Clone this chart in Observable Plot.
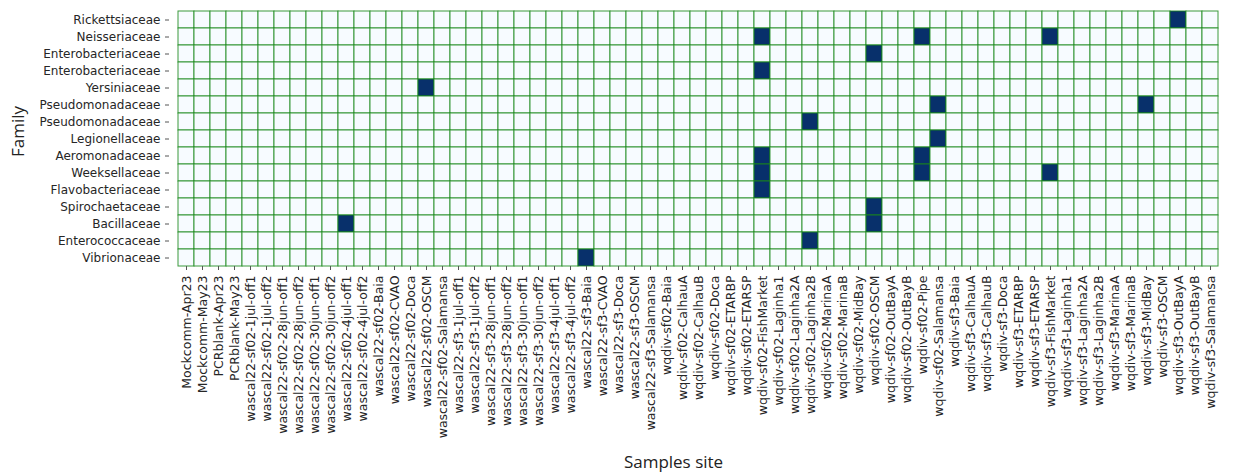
<!DOCTYPE html>
<html>
<head>
<meta charset="utf-8">
<script src="https://cdn.jsdelivr.net/npm/d3@7"></script>
<script src="https://cdn.jsdelivr.net/npm/@observablehq/plot@0.6"></script>
<style>
  body { margin: 0; background: #fff; }
</style>
</head>
<body>
<div id="chart"></div>
<script>
// Bacterial families (rows, top to bottom); some names occur twice
const families = [
  "Rickettsiaceae", "Neisseriaceae", "Enterobacteriaceae", "Enterobacteriaceae",
  "Yersiniaceae", "Pseudomonadaceae", "Pseudomonadaceae", "Legionellaceae",
  "Aeromonadaceae", "Weeksellaceae", "Flavobacteriaceae", "Spirochaetaceae",
  "Bacillaceae", "Enterococcaceae", "Vibrionaceae"
];

// Sample sites (columns, left to right)
const samples = [
  "Mockcomm-Apr23", "Mockcomm-May23", "PCRblank-Apr23", "PCRblank-May23",
  "wascal22-sf02-1jul-off1", "wascal22-sf02-1jul-off2", "wascal22-sf02-28jun-off1",
  "wascal22-sf02-28jun-off2", "wascal22-sf02-30jun-off1", "wascal22-sf02-30jun-off2",
  "wascal22-sf02-4jul-off1", "wascal22-sf02-4jul-off2", "wascal22-sf02-Baia",
  "wascal22-sf02-CVAO", "wascal22-sf02-Doca", "wascal22-sf02-OSCM",
  "wascal22-sf02-Salamansa", "wascal22-sf3-1jul-off1", "wascal22-sf3-1jul-off2",
  "wascal22-sf3-28jun-off1", "wascal22-sf3-28jun-off2", "wascal22-sf3-30jun-off1",
  "wascal22-sf3-30jun-off2", "wascal22-sf3-4jul-off1", "wascal22-sf3-4jul-off2",
  "wascal22-sf3-Baia", "wascal22-sf3-CVAO", "wascal22-sf3-Doca", "wascal22-sf3-OSCM",
  "wascal22-sf3-Salamansa", "wqdiv-sf02-Baia", "wqdiv-sf02-CalhauA", "wqdiv-sf02-CalhauB",
  "wqdiv-sf02-Doca", "wqdiv-sf02-ETARBP", "wqdiv-sf02-ETARSP", "wqdiv-sf02-FishMarket",
  "wqdiv-sf02-Laginha1", "wqdiv-sf02-Laginha2A", "wqdiv-sf02-Laginha2B",
  "wqdiv-sf02-MarinaA", "wqdiv-sf02-MarinaB", "wqdiv-sf02-MidBay", "wqdiv-sf02-OSCM",
  "wqdiv-sf02-OutBayA", "wqdiv-sf02-OutBayB", "wqdiv-sf02-Pipe", "wqdiv-sf02-Salamansa",
  "wqdiv-sf3-Baia", "wqdiv-sf3-CalhauA", "wqdiv-sf3-CalhauB", "wqdiv-sf3-Doca",
  "wqdiv-sf3-ETARBP", "wqdiv-sf3-ETARSP", "wqdiv-sf3-FishMarket", "wqdiv-sf3-Laginha1",
  "wqdiv-sf3-Laginha2A", "wqdiv-sf3-Laginha2B", "wqdiv-sf3-MarinaA", "wqdiv-sf3-MarinaB",
  "wqdiv-sf3-MidBay", "wqdiv-sf3-OSCM", "wqdiv-sf3-OutBayA", "wqdiv-sf3-OutBayB",
  "wqdiv-sf3-Salamansa"
];

// Sites where each family (same order as above) was detected
const detected = [
  ["wqdiv-sf3-OutBayA"],
  ["wqdiv-sf02-FishMarket", "wqdiv-sf02-Pipe", "wqdiv-sf3-FishMarket"],
  ["wqdiv-sf02-OSCM"],
  ["wqdiv-sf02-FishMarket"],
  ["wascal22-sf02-OSCM"],
  ["wqdiv-sf02-Salamansa", "wqdiv-sf3-MidBay"],
  ["wqdiv-sf02-Laginha2B"],
  ["wqdiv-sf02-Salamansa"],
  ["wqdiv-sf02-FishMarket", "wqdiv-sf02-Pipe"],
  ["wqdiv-sf02-FishMarket", "wqdiv-sf02-Pipe", "wqdiv-sf3-FishMarket"],
  ["wqdiv-sf02-FishMarket"],
  ["wqdiv-sf02-OSCM"],
  ["wascal22-sf02-4jul-off1", "wqdiv-sf02-OSCM"],
  ["wqdiv-sf02-Laginha2B"],
  ["wascal22-sf3-Baia"]
];

// Presence/absence table, one cell per family row and sample
const cells = families.flatMap((family, row) =>
  samples.map((sample) => ({
    row,
    family,
    sample,
    value: detected[row].includes(sample) ? 1 : 0
  }))
);

const tickStyle = { fontFamily: "DejaVu Sans", fill: "#262626", stroke: "#555" };

const chart = Plot.plot({
  width: 1233,
  height: 474,
  marginLeft: 169,
  marginRight: 6,
  marginTop: 10,
  marginBottom: 208,
  style: { fontFamily: "DejaVu Sans", fontSize: "12px", color: "#262626", background: "#fff" },
  x: { domain: samples, padding: 0, label: null },
  y: { domain: d3.range(families.length), padding: 0, label: null },
  color: { type: "linear", domain: [0, 1], range: ["#f7fbff", "#08306b"] },
  marks: [
    Plot.cell(cells, { x: "sample", y: "row", fill: "value", stroke: "#1a8a1a", strokeWidth: 1, strokeOpacity: 0.85 }),
    Plot.axisX({ ...tickStyle, fontSize: 12.5, tickRotate: -90, tickSize: 4, tickPadding: 5, label: null }),
    Plot.axisY({ ...tickStyle, fontSize: 12, tickSize: 4, tickPadding: 5, label: null, tickFormat: (i) => families[i] }),
    Plot.text(["Samples site"], {
      frameAnchor: "middle", dx: -25, dy: 324,
      fontFamily: "Open Sans", fontSize: 17, fill: "#222"
    }),
    Plot.text(["Family"], {
      frameAnchor: "middle", dx: -680, dy: -7, rotate: -90,
      fontFamily: "Open Sans", fontSize: 17, fill: "#222"
    })
  ]
});

document.getElementById("chart").appendChild(chart);
</script>
</body>
</html>
